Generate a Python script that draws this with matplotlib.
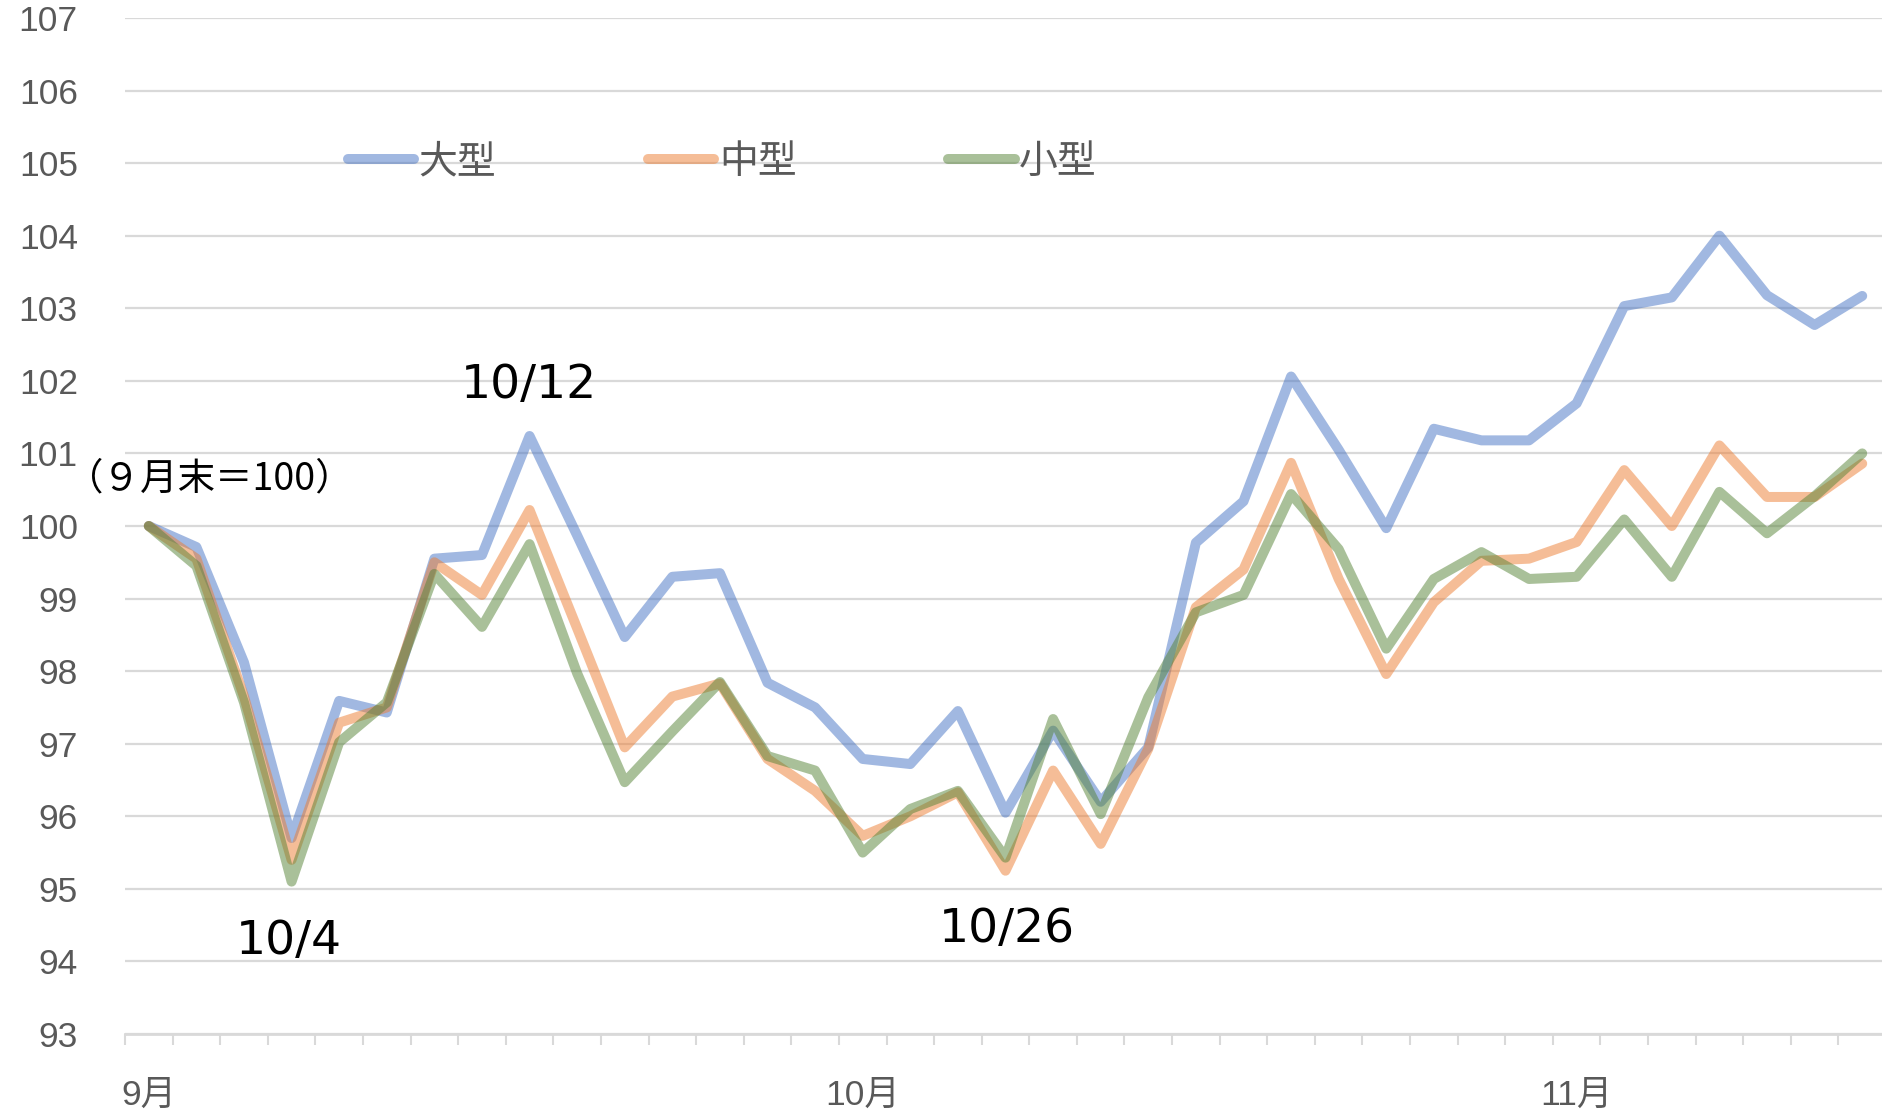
import matplotlib
matplotlib.use("Agg")
import matplotlib.pyplot as plt
import numpy as np

# 9月末=100 とした指数（日次）
large = [100, 99.71, 98.12, 95.7, 97.59, 97.43, 99.55, 99.6, 101.24, 99.87,
         98.47, 99.3, 99.35, 97.84, 97.5, 96.79, 96.72, 97.45, 96.05, 97.18,
         96.2, 96.95, 99.77, 100.34, 102.06, 101.05, 99.97, 101.34, 101.18, 101.18,
         101.69, 103.03, 103.15, 104.0, 103.18, 102.77, 103.17]
medium = [100, 99.55, 97.65, 95.4, 97.29, 97.5, 99.5, 99.05, 100.22, 98.59,
          96.95, 97.65, 97.83, 96.79, 96.35, 95.73, 96.0, 96.33, 95.25, 96.63,
          95.62, 96.93, 98.88, 99.4, 100.87, 99.27, 97.96, 98.95, 99.52, 99.55,
          99.78, 100.77, 100.0, 101.11, 100.4, 100.4, 100.86]
small = [100, 99.45, 97.57, 95.1, 97.02, 97.57, 99.34, 98.61, 99.75, 97.97,
         96.47, 97.17, 97.85, 96.83, 96.63, 95.5, 96.1, 96.35, 95.43, 97.34,
         96.03, 97.64, 98.81, 99.05, 100.44, 99.68, 98.31, 99.27, 99.64, 99.27,
         99.3, 100.09, 99.3, 100.47, 99.9, 100.41, 101.0]
series_names = ["大型", "中型", "小型"]
month_pos = [0, 15, 30]
month_labels = ["9月", "10月", "11月"]

W, H = 1883, 1111
fig = plt.figure(figsize=(W / 100, H / 100), dpi=100)
ax = fig.add_axes([125 / W, 1 - 1034 / H, (1886 - 125) / W, (1034 - 18) / H])

x = np.arange(len(large))
colors = ["#4472C4", "#ED7D31", "#548235"]
for ys, c, name in zip([large, medium, small], colors, series_names):
    ax.plot(x, ys, color=c, alpha=0.5, lw=7.2, label=name,
            solid_capstyle="round", solid_joinstyle="round")

ax.set_xlim(-0.5, len(large) - 0.5)
ax.set_ylim(93, 107)
ax.set_yticks(range(93, 108))
ax.yaxis.grid(True, color="#d9d9d9", lw=1.6)
ax.set_axisbelow(True)
for s in ["top", "left", "right"]:
    ax.spines[s].set_visible(False)
ax.spines["bottom"].set_color("#d9d9d9")
ax.spines["bottom"].set_linewidth(2)

ax.set_xticks(month_pos)
ax.set_xticklabels(month_labels)
ax.set_xticks(np.arange(-0.5, len(large), 1), minor=True)
ax.tick_params(axis="x", which="major", length=0, pad=32)
ax.tick_params(axis="x", which="minor", length=8, width=1.5, color="#d9d9d9")
ax.tick_params(axis="y", length=0, pad=34)
for lab in ax.get_xticklabels() + ax.get_yticklabels():
    lab.set_family(["Liberation Sans", "Noto Sans CJK JP"])
    lab.set_fontsize(25.5)
    lab.set_color("#595959")

leg = ax.legend(loc="center left", bbox_to_anchor=(348 / W, 1 - 162 / H),
                bbox_transform=fig.transFigure, ncol=3, frameon=False,
                borderpad=0, borderaxespad=0, handlelength=1.7,
                handletextpad=0.12, columnspacing=3.9,
                prop={"family": ["Noto Sans CJK JP"], "size": 28})
for t in leg.get_texts():
    t.set_color("#595959")

fig.text(289 / W, 1 - 942 / H, "10/4", ha="center", va="center",
         fontsize=34, family=["DejaVu Sans"])
fig.text(529 / W, 1 - 386 / H, "10/12", ha="center", va="center",
         fontsize=34, family=["DejaVu Sans"])
fig.text(1007 / W, 1 - 929 / H, "10/26", ha="center", va="center",
         fontsize=34, family=["DejaVu Sans"])
fig.text(66 / W, 1 - 479 / H, "（９月末＝100）", ha="left", va="center",
         fontsize=27, family=["Noto Sans CJK JP", "DejaVu Sans"])

fig.savefig("out.png", dpi=100)
